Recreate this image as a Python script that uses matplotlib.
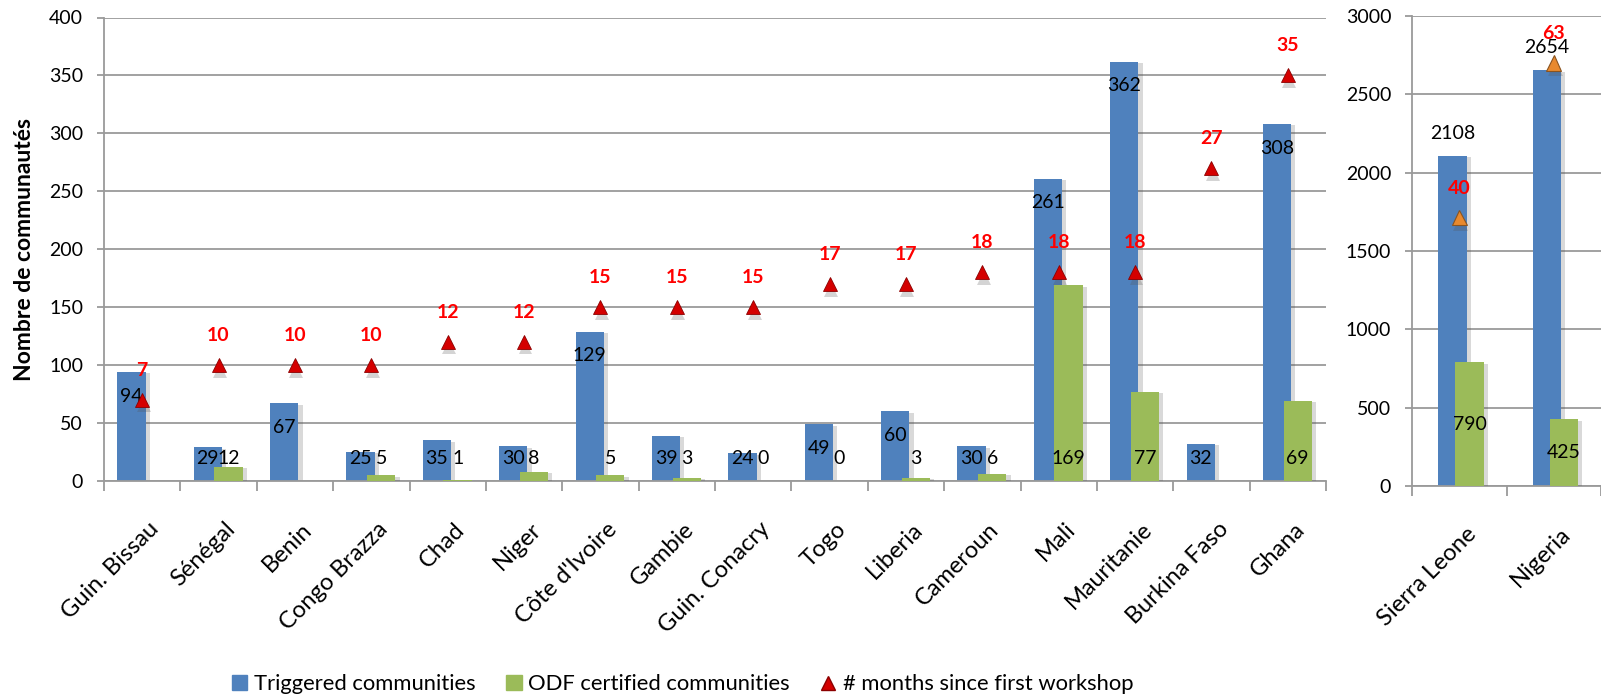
import numpy as np
import matplotlib.pyplot as plt
from matplotlib import patheffects as pe
from matplotlib.lines import Line2D
from matplotlib.patches import Patch
from matplotlib.transforms import ScaledTranslation

plt.rcParams['font.family'] = ['Lato', 'DejaVu Sans']

# smaller programmes (left panel)
countries = ['Guin. Bissau', 'Sénégal', 'Benin', 'Congo Brazza', 'Chad', 'Niger',
             "Côte d'Ivoire", 'Gambie', 'Guin. Conacry', 'Togo', 'Liberia',
             'Cameroun', 'Mali', 'Mauritanie', 'Burkina Faso', 'Ghana']
triggered = [94, 29, 67, 25, 35, 30, 129, 39, 24, 49, 60, 30, 261, 362, 32, 308]
odf = [np.nan, 12, np.nan, 5, 1, 8, 5, 3, 0, 0, 3, 6, 169, 77, np.nan, 69]
months = [7, 10, 10, 10, 12, 12, 15, 15, 15, 17, 17, 18, 18, 18, 27, 35]

# large programmes (right panel)
big_countries = ['Sierra Leone', 'Nigeria']
big_triggered = [2108, 2654]
big_odf = [790, 425]
big_months = [40, 63]

BLUE = '#4F81BD'
GREEN = '#9BBB59'
RED = '#D40000'
ORANGE = '#E8892E'
GRID = '#9A9A9A'

shadow = [pe.SimplePatchShadow(offset=(3, -1), shadow_rgbFace='#555555', alpha=0.22), pe.Normal()]

fig = plt.figure(figsize=(16.01, 6.97), dpi=100)
ax1 = fig.add_axes([104 / 1601, 1 - 481 / 697, 1222 / 1601, 463.5 / 697])
ax2 = fig.add_axes([1412 / 1601, 1 - 486 / 697, 189 / 1601, 470 / 697])


def style_axis(ax, names, ymax, step):
    n = len(names)
    ax.set_xlim(0, n)
    ax.set_ylim(0, ymax)
    ax.set_yticks(np.arange(0, ymax + 1, step))
    ax.yaxis.grid(True, color=GRID, lw=1.3)
    ax.set_axisbelow(True)
    for s in ['top', 'right']:
        ax.spines[s].set_visible(False)
    for s in ['left', 'bottom']:
        ax.spines[s].set_color(GRID)
        ax.spines[s].set_linewidth(1.3)
    ax.set_xticks(np.arange(n) + 0.5)
    ax.set_xticklabels(names, rotation=45, ha='right', va='top', rotation_mode='anchor', fontsize=17)
    ax.set_xticks(np.arange(n + 1), minor=True)
    ax.tick_params(axis='x', which='major', length=0, pad=27)
    ax.tick_params(axis='x', which='minor', length=7, color=GRID, width=1.3)
    ax.tick_params(axis='y', length=5, color=GRID, width=1.3, pad=10, labelsize=14)
    for lab in ax.get_xticklabels():
        lab.set_transform(lab.get_transform() + ScaledTranslation(6 / 100, 0, fig.dpi_scale_trans))


# ---- left panel ----
style_axis(ax1, countries, 400, 50)
x = np.arange(len(countries)) + 0.5
w = 0.37
b1 = ax1.bar(x - 0.14, triggered, w, color=BLUE, zorder=2)
b2 = ax1.bar(x + 0.13, odf, w, color=GREEN, zorder=3)
for r in list(b1) + list(b2):
    r.set_path_effects(shadow)
for xi, v in zip(x, triggered):
    ax1.text(xi - 0.14, max(v - 21, 19), str(v), ha='center', va='center', fontsize=14, zorder=5)
for xi, v in zip(x, odf):
    if not np.isnan(v):
        ax1.text(xi + 0.13, 19, str(int(v)), ha='center', va='center', fontsize=14, zorder=5)
ax1.set_ylabel('Nombre de communautés', fontsize=16.5, fontweight='bold', labelpad=10)

ax1m = ax1.twinx()
ax1m.set_ylim(0, 40)
ax1m.set_xlim(0, len(countries))
ax1m.axis('off')
ax1m.plot(x, months, ls='none', marker='^', ms=10, color=RED, mec='#8B0000', mew=0.6,
          path_effects=[pe.SimplePatchShadow(offset=(1, -4), shadow_rgbFace='#555555', alpha=0.25), pe.Normal()])
for xi, m in zip(x, months):
    ax1m.annotate(str(m), (xi, m), xytext=(0, 21.5), textcoords='offset points', ha='center', va='center',
                  color='#FF0000', fontweight='bold', fontsize=14)

# ---- right panel ----
style_axis(ax2, big_countries, 3000, 500)
xb = np.arange(len(big_countries)) + 0.5
wb = 0.3
c1 = ax2.bar(xb - 0.07, big_triggered, wb, color=BLUE, zorder=2)
c2 = ax2.bar(xb + 0.11, big_odf, wb, color=GREEN, zorder=3)
for r in list(c1) + list(c2):
    r.set_path_effects(shadow)
for xi, v in zip(xb, big_triggered):
    ax2.annotate(str(v), (xi - 0.07, v), xytext=(0, 16), textcoords='offset points', ha='center', va='center',
                 fontsize=14, zorder=5)
for xi, v in zip(xb, big_odf):
    ax2.text(xi + 0.11, v / 2, str(v), ha='center', va='center', fontsize=14, zorder=5)

ax2m = ax2.twinx()
ax2m.set_ylim(0, 70)
ax2m.set_xlim(0, len(big_countries))
ax2m.axis('off')
ax2m.plot(xb, big_months, ls='none', marker='^', ms=11, color=ORANGE, mec='#8A5420', mew=0.8,
          path_effects=[pe.SimplePatchShadow(offset=(1, -4), shadow_rgbFace='#555555', alpha=0.25), pe.Normal()])
for xi, m in zip(xb, big_months):
    ax2m.annotate(str(m), (xi, m), xytext=(0, 21), textcoords='offset points', ha='center', va='center',
                  color='#FF0000', fontweight='bold', fontsize=14)

# ---- legend ----
handles = [Patch(color=BLUE), Patch(color=GREEN),
           Line2D([], [], ls='none', marker='^', ms=10, color=RED, mec='#8B0000')]
labels = ['Triggered communities', 'ODF certified communities', '# months since first workshop']
fig.legend(handles, labels, loc='center', bbox_to_anchor=(0.4264, 0.018), ncol=3, frameon=False,
           fontsize=15.8, columnspacing=1.4, handlelength=0.7, handleheight=0.7, handletextpad=0.3)

fig.savefig('out.png', dpi=100)
